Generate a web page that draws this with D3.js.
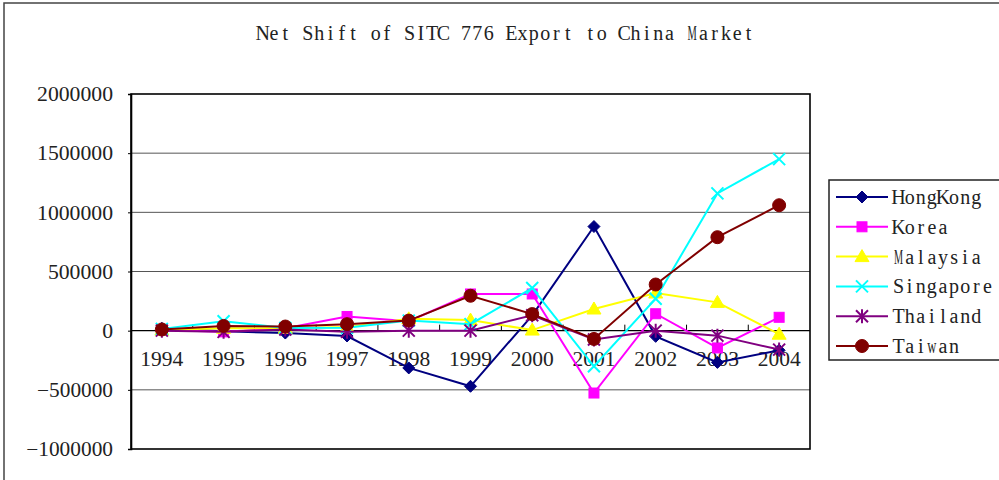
<!DOCTYPE html>
<html>
<head>
<meta charset="utf-8">
<script src="https://cdn.jsdelivr.net/npm/d3@7"></script>
<style>
  html, body { margin: 0; padding: 0; background: #fff; }
  svg { display: block; }
  .serif { font-family: "Liberation Serif", "DejaVu Serif", serif; }
</style>
</head>
<body>
<svg id="chart" width="999" height="480"></svg>
<script>
// Years on the category axis
const years = ["1994","1995","1996","1997","1998","1999","2000","2001","2002","2003","2004"];

// Net shift values per exporter
const hongKong  = [20000, -5000, -20000, -45000, -315000, -470000, 130000, 880000, -48000, -268000, -166000];
const korea     = [5000, -10000, 20000, 120000, 80000, 310000, 310000, -527000, 143000, -146000, 113000];
const malaysia  = [5000, 20000, 20000, 30000, 100000, 90000, 5000, 183000, 318000, 239000, -30000];
const singapore = [15000, 80000, 22000, 25000, 85000, 55000, 360000, -301000, 270000, 1160000, 1450000];
const thailand  = [0, -10000, 10000, -10000, 0, 0, 130000, -75000, 0, -42000, -160000];
const taiwan    = [10000, 40000, 35000, 55000, 85000, 295000, 140000, -70000, 390000, 790000, 1060000];

const seriesNames = ["HongKong", "Korea", "Malaysia", "Singapore", "Thailand", "Taiwan"];
const seriesValues = [hongKong, korea, malaysia, singapore, thailand, taiwan];
const seriesColors = ["#000080", "#FF00FF", "#FFFF00", "#00FFFF", "#800080", "#800000"];
const seriesMarkers = ["diamond", "square", "triangle", "cross", "asterisk", "circle"];

const yTicks = [-1000000, -500000, 0, 500000, 1000000, 1500000, 2000000];
const titleText = "Net Shift of SITC 776 Export to China Market";

const svg = d3.select("#chart");

// Plot area
const plot = { left: 131, right: 810, top: 94, bottom: 449 };

const x = d3.scaleBand().domain(years).range([plot.left, plot.right]);
const y = d3.scaleLinear().domain([-1000000, 2000000]).range([plot.bottom, plot.top]);
const cx = d => x(d) + x.bandwidth() / 2;

// Outer chart frame
svg.append("rect").attr("x", 4).attr("y", 3).attr("width", 1010).attr("height", 490)
  .attr("fill", "#fff").attr("stroke", "#444").attr("stroke-width", 1.5);

// Text on a fixed character pitch: one glyph per column.
// Wide glyphs are set on their own and scaled horizontally to fit one column.
const wide = new Set(["M", "m", "W", "w"]);
function pitchedText(sel, str, x0, pitch, yBase, size) {
  const g = sel.append("g");
  let col = 0;
  str.split(" ").forEach(word => {
    let t = null;
    word.split("").forEach((ch, i) => {
      const c = col + i;
      const center = x0 + pitch * (c + 0.5);
      if (wide.has(ch)) {
        const wt = g.append("text").attr("class", "serif")
          .attr("x", 0).attr("y", 0).attr("text-anchor", "middle")
          .style("font-size", size + "px").attr("fill", "#222").text(ch);
        const adv = wt.node().getComputedTextLength() || size * 0.9;
        const k = Math.min(1, (pitch - 2) / adv);
        wt.attr("transform", `translate(${center},${yBase}) scale(${k.toFixed(3)},1)`);
        t = null;
      } else {
        if (!t) {
          t = g.append("text").attr("class", "serif").attr("y", yBase)
            .style("font-size", size + "px").attr("fill", "#222");
        }
        t.append("tspan").attr("x", center).attr("text-anchor", "middle").text(ch);
      }
    });
    col += word.length + 1;
  });
  return g;
}

// Title
pitchedText(svg, titleText, 257, 11.3, 40, 20);

// Horizontal gridlines
svg.append("g").selectAll("line").data(yTicks.filter(v => v !== 0 && v !== 2000000 && v !== -1000000))
  .join("line")
  .attr("x1", plot.left).attr("x2", plot.right)
  .attr("y1", d => y(d)).attr("y2", d => y(d))
  .attr("stroke", "#555").attr("stroke-width", 1);

// Plot border
svg.append("rect")
  .attr("x", plot.left).attr("y", plot.top)
  .attr("width", plot.right - plot.left).attr("height", plot.bottom - plot.top)
  .attr("fill", "none").attr("stroke", "#000").attr("stroke-width", 1.6);

// Y axis
const yAxis = svg.append("g").attr("transform", `translate(${plot.left},0)`)
  .call(d3.axisLeft(y).tickValues(yTicks).tickSize(3).tickPadding(15)
    .tickFormat(d => d < 0 ? "\u2212" + Math.abs(d) : String(d)));
yAxis.attr("font-family", null);
yAxis.select(".domain").attr("stroke", "#000").attr("stroke-width", 1.6);
yAxis.selectAll(".tick line").attr("stroke", "#000");
yAxis.selectAll(".tick text")
  .attr("class", "serif").style("font-size", "20px").attr("fill", "#222")
  .attr("dy", "0.34em")
  .each(function () {
    const n = this.textContent.length;
    d3.select(this).attr("textLength", n * 10.85).attr("lengthAdjust", "spacingAndGlyphs");
  });

// Category axis along the zero line
const zeroY = y(0);
const xAxis = svg.append("g").attr("transform", `translate(0,${zeroY})`)
  .call(d3.axisBottom(x).tickSize(0).tickPadding(0));
xAxis.attr("font-family", null);
xAxis.select(".domain").remove();
xAxis.selectAll(".tick text")
  .attr("class", "serif").style("font-size", "20px").attr("fill", "#222")
  .attr("y", 35.5).attr("dy", 0)
  .attr("textLength", 43).attr("lengthAdjust", "spacingAndGlyphs");
svg.append("line").attr("x1", plot.left).attr("x2", plot.right)
  .attr("y1", zeroY).attr("y2", zeroY).attr("stroke", "#000").attr("stroke-width", 1.2);
// Category boundary ticks
svg.append("g").selectAll("line").data(years.slice(1)).join("line")
  .attr("x1", d => x(d)).attr("x2", d => x(d))
  .attr("y1", zeroY).attr("y2", zeroY - 6)
  .attr("stroke", "#000").attr("stroke-width", 1);

// Marker drawing
function drawMarker(g, type, color, px, py) {
  if (type === "diamond") {
    g.append("path").attr("d", `M${px},${py - 6}L${px + 6},${py}L${px},${py + 6}L${px - 6},${py}Z`)
      .attr("fill", color).attr("stroke", color).attr("stroke-width", 1);
  } else if (type === "square") {
    g.append("rect").attr("x", px - 5).attr("y", py - 5).attr("width", 10).attr("height", 10)
      .attr("fill", color).attr("stroke", color).attr("stroke-width", 1);
  } else if (type === "triangle") {
    g.append("path").attr("d", `M${px},${py - 7}L${px + 7},${py + 5}L${px - 7},${py + 5}Z`)
      .attr("fill", color).attr("stroke", color).attr("stroke-width", 1);
  } else if (type === "cross") {
    g.append("path").attr("d", `M${px - 6},${py - 6}L${px + 6},${py + 6}M${px - 6},${py + 6}L${px + 6},${py - 6}`)
      .attr("stroke", color).attr("stroke-width", 2).attr("fill", "none");
  } else if (type === "asterisk") {
    g.append("path").attr("d", `M${px - 6},${py - 6}L${px + 6},${py + 6}M${px - 6},${py + 6}L${px + 6},${py - 6}M${px},${py - 7}L${px},${py + 7}`)
      .attr("stroke", color).attr("stroke-width", 2).attr("fill", "none");
  } else if (type === "circle") {
    g.append("circle").attr("cx", px).attr("cy", py).attr("r", 6.5)
      .attr("fill", color).attr("stroke", color).attr("stroke-width", 1);
  }
}

// Series lines and markers
const line = d3.line().x((d, i) => cx(years[i])).y(d => y(d));
seriesNames.forEach((name, s) => {
  const g = svg.append("g");
  g.append("path").datum(seriesValues[s]).attr("d", line)
    .attr("fill", "none").attr("stroke", seriesColors[s]).attr("stroke-width", 2);
  seriesValues[s].forEach((v, i) => drawMarker(g, seriesMarkers[s], seriesColors[s], cx(years[i]), y(v)));
});

// Legend
const legend = svg.append("g");
legend.append("rect").attr("x", 829).attr("y", 180).attr("width", 200).attr("height", 180)
  .attr("fill", "#fff").attr("stroke", "#222").attr("stroke-width", 1.5);
seriesNames.forEach((name, s) => {
  const ly = 197 + s * 29.8;
  legend.append("line").attr("x1", 836).attr("x2", 888).attr("y1", ly).attr("y2", ly)
    .attr("stroke", seriesColors[s]).attr("stroke-width", 2);
  drawMarker(legend, seriesMarkers[s], seriesColors[s], 862, ly);
  pitchedText(legend, name, 893, 11.1, ly + 7, 20);
});
</script>
</body>
</html>
